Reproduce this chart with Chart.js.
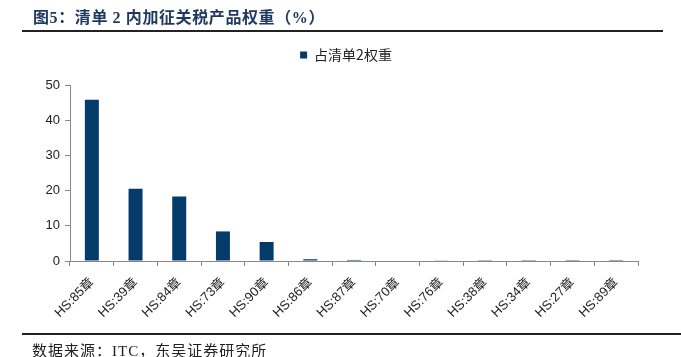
<!DOCTYPE html>
<html><head><meta charset="utf-8">
<script src="https://cdn.jsdelivr.net/npm/chart.js@4"></script>
<style>
html,body{margin:0;padding:0;background:#fff;}
#wrap{position:absolute;left:0;top:0;width:681px;height:357px;}
#title{position:absolute;left:33px;top:4px;font:bold 16px "Liberation Serif","Noto Sans CJK SC",serif;letter-spacing:0.6px;color:#1f3a60;white-space:nowrap;}
#line1{position:absolute;left:22px;top:30px;width:641px;height:2px;background:#222;}
#line2{position:absolute;left:22px;top:333px;width:659px;height:2px;background:#222;}
#foot{position:absolute;left:32px;top:339px;font:15px "Liberation Serif","Noto Sans CJK SC",serif;letter-spacing:1px;color:#222;white-space:nowrap;}
</style></head>
<body>
<div id="wrap"><canvas id="c"></canvas></div>
<div id="title">图5：清单 2 内加征关税产品权重（%）</div>
<div id="line1"></div>
<div id="foot">数据来源：ITC，东吴证券研究所</div>
<div id="line2"></div>
<script>
const categories = ["HS:85章","HS:39章","HS:84章","HS:73章","HS:90章","HS:86章","HS:87章","HS:70章","HS:76章","HS:38章","HS:34章","HS:27章","HS:89章"];
const seriesName = "占清单2权重";
const weights = [45.8, 20.5, 18.3, 8.4, 5.4, 0.5, 0.3, 0.15, 0.1, 0.05, 0.04, 0.03, 0.02];
const yTicks = [0, 10, 20, 30, 40, 50];

const tickFont = {family: "'Liberation Sans','Noto Sans CJK SC',sans-serif", size: 13};

const legendFix = {
  id: 'legendFix',
  beforeLayout(chart) {
    const lg = chart.legend;
    if (lg && !lg._fixed) {
      const f = lg.fit;
      lg.fit = function () { f.call(this); this.height = 42; };
      lg._fixed = true;
    }
  },
  afterLayout(chart) {
    const lg = chart.legend;
    if (lg) { lg.left = 54; lg.width = lg.right - lg.left; }
  }
};

new Chart(document.getElementById('c'), {
  type: 'bar',
  data: {
    labels: categories,
    datasets: [{
      label: seriesName,
      data: weights,
      backgroundColor: '#043b6b',
      borderWidth: 0,
      categoryPercentage: 1,
      barPercentage: 0.32
    }]
  },
  plugins: [legendFix],
  options: {
    responsive: true,
    maintainAspectRatio: false,
    animation: false,
    devicePixelRatio: 1,
    layout: {padding: {left: 0, right: 43, top: 43, bottom: 0}},
    plugins: {
      legend: {
        display: true,
        position: 'top',
        labels: {
          boxWidth: 7, boxHeight: 7, padding: 5,
          color: '#222',
          font: {family: "'Noto Sans CJK SC',sans-serif", size: 14}
        }
      },
      tooltip: {enabled: false}
    },
    scales: {
      x: {
        grid: {display: true, drawOnChartArea: false, drawTicks: true, tickLength: 5, color: '#888', offset: true},
        border: {display: true, color: '#888', width: 1},
        ticks: {color: '#222', font: tickFont, minRotation: 45, maxRotation: 45, autoSkip: false, padding: 9},
        afterFit: s => { s.height = 96; }
      },
      y: {
        min: 0, max: 50,
        afterBuildTicks: s => { s.ticks = yTicks.map(v => ({value: v})); },
        grid: {display: true, drawOnChartArea: false, drawTicks: true, tickLength: 5, color: '#888'},
        border: {display: true, color: '#888', width: 1},
        ticks: {color: '#222', font: tickFont, padding: 5},
        afterFit: s => { s.width = 70; }
      }
    }
  }
});
</script>
</body></html>
